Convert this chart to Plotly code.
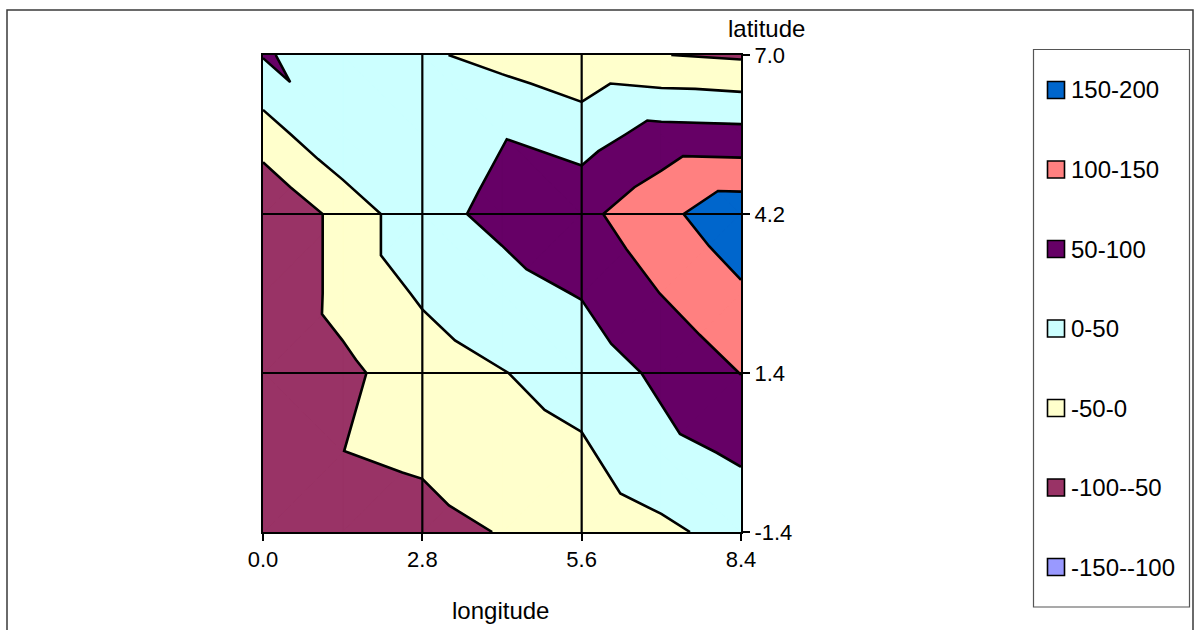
import plotly.graph_objects as go

# Grid of the surface: longitude columns, latitude rows
longitude = [0.0, 1.4, 2.8, 4.2, 5.6, 7.0, 8.4]
latitude = [-1.4, 0.0, 1.4, 2.8, 4.2, 5.6, 7.0]

# One list of values per latitude row (west -> east)
row_lat_m14 = [-85.0, -70.0, -63.5, -48.1, -32.4, -10.1, 18.0]
row_lat_00 = [-90.0, -50.5, -43.3, -23.1, -7.0, 34.4, 57.0]
row_lat_14 = [-96.4, -61.2, -23.6, -1.8, 20.1, 60.0, 101.0]
row_lat_28 = [-98.6, -33.7, 5.9, 34.0, 52.6, 101.0, 143.2]
row_lat_42 = [-98.7, -33.7, 36.5, 60.6, 86.2, 137.2, 183.0]
row_lat_56 = [-23.8, 44.2, 24.1, 47.7, 26.9, 69.0, 66.0]
row_lat_70 = [53.0, 34.2, 7.4, -15.1, -38.7, -49.0, -57.0]
values = [row_lat_m14, row_lat_00, row_lat_14, row_lat_28,
          row_lat_42, row_lat_56, row_lat_70]

# Contour bands
band_edges = [-150, -100, -50, 0, 50, 100, 150, 200]
band_labels = ["-150--100", "-100--50", "-50-0", "0-50",
               "50-100", "100-150", "150-200"]
band_colors = ["#9999FF", "#993366", "#FFFFCC", "#CCFFFF",
               "#660066", "#FF8080", "#0066CC"]

x_ticks = [0.0, 2.8, 5.6, 8.4]
x_ticktext = ["0.0", "2.8", "5.6", "8.4"]
y_ticks = [-1.4, 1.4, 4.2, 7.0]
y_ticktext = ["-1.4", "1.4", "4.2", "7.0"]

FONT = "Liberation Sans, Arial, sans-serif"

# Page geometry (pixels)
W, H = 1197, 630
ML, MR, MT, MB = 263, 456, 55, 98
PW, PH = W - ML - MR, H - MT - MB


def px(x):
    return (x - ML) / PW


def py(y):
    return (H - MB - y) / PH


# ---- triangulate each grid cell along its higher-valued diagonal ----
def build_triangles():
    tris = []
    for j in range(len(latitude) - 1):
        for i in range(len(longitude) - 1):
            a = (longitude[i], latitude[j], values[j][i])
            b = (longitude[i + 1], latitude[j], values[j][i + 1])
            c = (longitude[i], latitude[j + 1], values[j + 1][i])
            d = (longitude[i + 1], latitude[j + 1], values[j + 1][i + 1])
            if a[2] + d[2] >= b[2] + c[2]:
                tris += [(a, b, d), (a, d, c)]
            else:
                tris += [(a, b, c), (b, d, c)]
    return tris


def edge_point(p, q, level):
    # canonical order so shared edges give identical points
    if (p[0], p[1]) > (q[0], q[1]):
        p, q = q, p
    t = (level - p[2]) / (q[2] - p[2])
    return (p[0] + t * (q[0] - p[0]), p[1] + t * (q[1] - p[1]), level)


def clip(poly, level, keep_above):
    out = []
    n = len(poly)
    for k in range(n):
        p, q = poly[k], poly[(k + 1) % n]
        pin = p[2] >= level if keep_above else p[2] <= level
        qin = q[2] >= level if keep_above else q[2] <= level
        if pin:
            out.append(p)
        if pin != qin:
            out.append(edge_point(p, q, level))
    return out


triangles = build_triangles()

fig = go.Figure()

# ---- filled bands ----
for lo, hi, color in zip(band_edges[:-1], band_edges[1:], band_colors):
    xs, ys = [], []
    for tri in triangles:
        poly = clip(list(tri), lo, True)
        if len(poly) >= 3:
            poly = clip(poly, hi, False)
        if len(poly) >= 3:
            xs += [p[0] for p in poly] + [poly[0][0], None]
            ys += [p[1] for p in poly] + [poly[0][1], None]
    if xs:
        fig.add_trace(go.Scatter(
            x=xs, y=ys, mode="lines", fill="toself", fillcolor=color,
            line=dict(color=color, width=0.8), hoverinfo="skip",
            showlegend=False, name=f"{lo}-{hi}"))

# ---- contour lines, chained into polylines ----
segments = []
for level in band_edges:
    for tri in triangles:
        pts = []
        for k in range(3):
            p, q = tri[k], tri[(k + 1) % 3]
            if (p[2] - level) * (q[2] - level) < 0:
                pts.append(edge_point(p, q, level))
        if len(pts) == 2:
            segments.append(((pts[0][0], pts[0][1]), (pts[1][0], pts[1][1])))


def key(pt):
    return (round(pt[0], 6), round(pt[1], 6))


ends = {}
for s, (p, q) in enumerate(segments):
    ends.setdefault(key(p), []).append(s)
    ends.setdefault(key(q), []).append(s)

used = [False] * len(segments)
lx, ly = [], []
for s0 in range(len(segments)):
    if used[s0]:
        continue
    used[s0] = True
    chain = [segments[s0][0], segments[s0][1]]
    for direction in (1, 0):
        while True:
            tip = chain[-1] if direction else chain[0]
            nxt = None
            for s in ends.get(key(tip), []):
                if not used[s]:
                    nxt = s
                    break
            if nxt is None:
                break
            used[nxt] = True
            p, q = segments[nxt]
            other = q if key(p) == key(tip) else p
            if direction:
                chain.append(other)
            else:
                chain.insert(0, other)
    lx += [p[0] for p in chain] + [None]
    ly += [p[1] for p in chain] + [None]

fig.add_trace(go.Scatter(
    x=lx, y=ly, mode="lines", line=dict(color="black", width=2.6),
    hoverinfo="skip", showlegend=False, name="contours"))

# ---- gridlines drawn over the surface ----
shapes = []
for xv in x_ticks[1:-1]:
    shapes.append(dict(type="line", xref="x", yref="paper", x0=xv, x1=xv,
                       y0=0, y1=1, line=dict(color="black", width=2.2),
                       layer="above"))
for yv in y_ticks[1:-1]:
    shapes.append(dict(type="line", xref="paper", yref="y", x0=0, x1=1,
                       y0=yv, y1=yv, line=dict(color="black", width=2.2),
                       layer="above"))

# chart area border
shapes.append(dict(type="rect", xref="paper", yref="paper",
                   x0=px(7), x1=px(1193), y0=py(640), y1=py(10),
                   line=dict(color="#3a3a3a", width=1.5), layer="above"))

# legend box, keys and labels
annotations = []
shapes.append(dict(type="rect", xref="paper", yref="paper",
                   x0=px(1033.5), x1=px(1189.5), y0=py(607), y1=py(49.5),
                   line=dict(color="#555555", width=1.2),
                   fillcolor="white", layer="above"))
for k, (label, color) in enumerate(zip(band_labels[::-1], band_colors[::-1])):
    cy = 90 + k * 79.5
    shapes.append(dict(type="rect", xref="paper", yref="paper",
                       x0=px(1047.5), x1=px(1064.5),
                       y0=py(cy + 8.5), y1=py(cy - 8.5),
                       line=dict(color="black", width=1.6),
                       fillcolor=color, layer="above"))
    annotations.append(dict(text=label, xref="paper", yref="paper",
                            x=px(1069), y=py(cy), xanchor="left",
                            yanchor="middle", showarrow=False,
                            font=dict(family=FONT, size=24, color="black")))

# axis titles
annotations.append(dict(text="longitude", xref="paper", yref="paper",
                        x=px(500), y=py(610), xanchor="center",
                        yanchor="middle", showarrow=False,
                        font=dict(family=FONT, size=24, color="black")))
annotations.append(dict(text="latitude", xref="paper", yref="paper",
                        x=px(766), y=py(28), xanchor="center",
                        yanchor="middle", showarrow=False,
                        font=dict(family=FONT, size=24, color="black")))

fig.update_layout(
    width=W, height=H, autosize=False,
    margin=dict(l=ML, r=MR, t=MT, b=MB, pad=0),
    paper_bgcolor="white", plot_bgcolor="white",
    showlegend=False,
    shapes=shapes, annotations=annotations,
    font=dict(family=FONT, size=22, color="black"),
    xaxis=dict(range=[longitude[0], longitude[-1]], tickvals=x_ticks,
               ticktext=x_ticktext, showgrid=False, zeroline=False,
               showline=True, linecolor="black", linewidth=2, mirror=True,
               ticks="outside", ticklen=7, tickwidth=1.5, tickcolor="black",
               tickfont=dict(family=FONT, size=22, color="black"),
               layer="above traces"),
    yaxis=dict(range=[latitude[0], latitude[-1]], tickvals=y_ticks,
               ticktext=y_ticktext, side="right", showgrid=False,
               zeroline=False, showline=True, linecolor="black",
               linewidth=2, mirror=True, ticks="outside", ticklen=7,
               tickwidth=1.5, tickcolor="black",
               tickfont=dict(family=FONT, size=22, color="black"),
               layer="above traces"),
)

fig.write_html("out.html", config={"displayModeBar": False})
